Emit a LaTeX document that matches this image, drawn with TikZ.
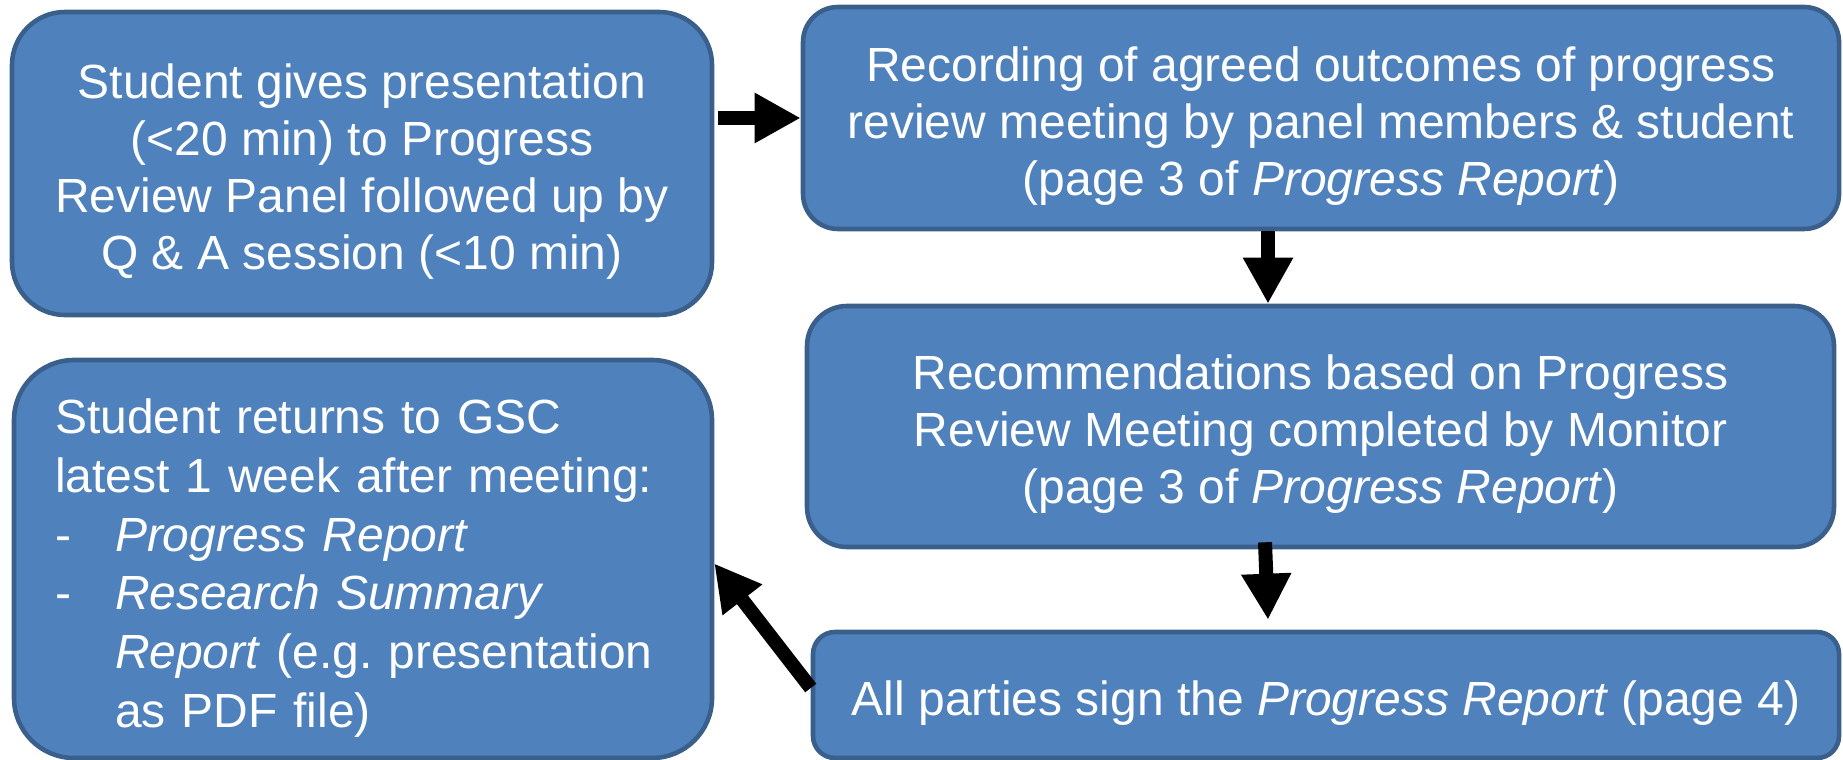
\documentclass[tikz,border=0pt]{standalone}
\usepackage{fontspec}
\setmainfont{Liberation Sans}
\usetikzlibrary{arrows.meta}
\definecolor{boxfill}{HTML}{4F81BD}
\definecolor{boxline}{HTML}{3A5F8B}
\newcommand{\topstrut}{\rule{0pt}{1.05em}}
\begin{document}
\begin{tikzpicture}[
		stepbox/.style={draw=boxline,line width=1.3pt,fill=boxfill,text=white,font=\fontsize{13.65}{16.2}\selectfont,align=center,inner sep=0pt},
		bigarrow/.style={line width=0.14cm,-{Triangle[length=0.46cm,width=0.47cm]}}
	]
		\useasboundingbox (0,0) rectangle (18.43,-7.60);
		\node[stepbox,minimum width=7cm,minimum height=3.03cm,rounded corners=0.53cm] (present) at (3.62,-1.635)
			{\topstrut Student gives presentation\\(<20 min) to Progress\\Review Panel followed up by\\Q \& A session (<10 min)};
		\node[stepbox,minimum width=10.36cm,minimum height=2.22cm,rounded corners=0.35cm] (record) at (13.21,-1.18)
			{\topstrut Recording of agreed outcomes of progress\\review meeting by panel members \& student\\(page 3 of \textit{Progress Report})};
		\node[stepbox,minimum width=10.27cm,minimum height=2.41cm,rounded corners=0.4cm] (recommend) at (13.205,-4.265)
			{\topstrut Recommendations based on Progress\\Review Meeting completed by Monitor\\(page 3 of \textit{Progress Report})};
		\node[stepbox,minimum width=10.26cm,minimum height=1.26cm,rounded corners=0.22cm] (sign) at (13.26,-6.95)
			{\topstrut All parties sign the \textit{Progress Report} (page 4)};
		\node[stepbox,font=\fontsize{13.65}{16.7}\selectfont,align=left,text width=6.16cm,inner xsep=0.41cm,minimum height=3.98cm,rounded corners=0.6cm] (returns) at (3.63,-5.59)
			{\rule{0pt}{1.1em}Student returns to GSC\\latest 1 week after meeting:\\\makebox[0.6cm][l]{-}\textit{Progress Report}\\\makebox[0.6cm][l]{-}\textit{Research Summary}\\\hspace*{0.6cm}\textit{Report} (e.g.\ presentation\\\hspace*{0.6cm}as PDF file)};
		\draw[bigarrow] ([xshift=0.04cm]present.east |- record.west) -- (record.west);
		\draw[bigarrow] ([xshift=-0.53cm]record.south) -- ([xshift=-0.53cm]record.south |- recommend.north);
		\draw[bigarrow] ([xshift=-0.555cm,yshift=0.07cm]recommend.south) -- ([xshift=-0.58cm,yshift=0.1cm]sign.north);
		\draw[bigarrow] ([yshift=0.07cm]sign.west) -- ([yshift=-0.045cm]returns.east);
	\end{tikzpicture}
\end{document}
